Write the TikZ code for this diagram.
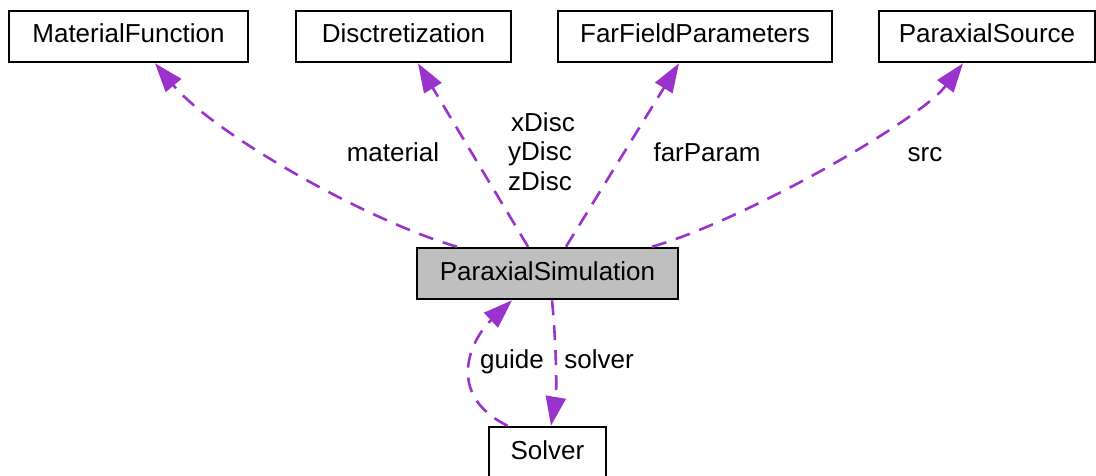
\documentclass[tikz,border=0pt]{standalone}
\usepackage{fontspec}
\setmainfont{Liberation Sans}
\usetikzlibrary{arrows.meta}
\definecolor{edgepurple}{HTML}{9A32CD}
\definecolor{simgrey}{HTML}{BFBFBF}
\tikzset{
  classbox/.style={draw=black, line width=2.6pt, fill=white, inner sep=0pt,
    minimum height=51pt, text height=19pt, text depth=6pt,
    font=\fontsize{26pt}{29pt}\selectfont},
  edgelbl/.style={inner sep=0pt, anchor=base, font=\fontsize{26pt}{29pt}\selectfont},
  usage/.style={draw=edgepurple, line width=2.6pt, dash pattern=on 15pt off 10pt,
    -{Triangle[length=29pt,width=20pt]}, edgepurple}
}
\begin{document}
\begin{tikzpicture}[x=1pt, y=-1pt]
\useasboundingbox (0,0) rectangle (1096,476);
% nodes
\node[classbox, minimum width=239pt] (mf) at (128.5,36.5) {MaterialFunction};
\node[classbox, minimum width=215pt] (disc) at (403.5,36.5) {Disctretization};
\node[classbox, minimum width=274pt] (ffp) at (695,36.5) {FarFieldParameters};
\node[classbox, minimum width=216pt] (ps) at (987,36.5) {ParaxialSource};
\node[classbox, fill=simgrey, minimum width=261pt] (sim) at (547.5,273.5) {ParaxialSimulation};
\node[classbox, minimum width=117pt] (solver) at (547.5,452.5) {Solver};
% edges
\draw[usage] ([xshift=-90.5pt]sim.north) .. controls (370,222) and (215,135) .. ([xshift=26.5pt]mf.south);
\draw[usage] ([xshift=-19.5pt]sim.north) -- ([xshift=14.5pt]disc.south);
\draw[usage] ([xshift=18.5pt]sim.north) -- ([xshift=-16pt]ffp.south);
\draw[usage] ([xshift=104.5pt]sim.north) .. controls (740,222) and (918,122) .. ([xshift=-24pt]ps.south);
\draw[usage] ([xshift=-40pt]solver.north) .. controls (445,395) and (470,340) .. ([xshift=-35.5pt]sim.south);
\draw[usage] ([xshift=4.5pt]sim.south) .. controls (556,340) and (557,390) .. ([xshift=3.5pt]solver.north);
% labels
\node[edgelbl] (lmat) at (393,162) {material};
\node[edgelbl] (lx) at (543,132) {xDisc};
\node[edgelbl] (ly) at (540,161) {yDisc};
\node[edgelbl] (lz) at (540,190) {zDisc};
\node[edgelbl] (lfar) at (707,162) {farParam};
\node[edgelbl] (lsrc) at (925,162) {src};
\node[edgelbl] (lguide) at (512,368) {guide};
\node[edgelbl] (lsolver) at (599,368) {solver};
\end{tikzpicture}
\end{document}
